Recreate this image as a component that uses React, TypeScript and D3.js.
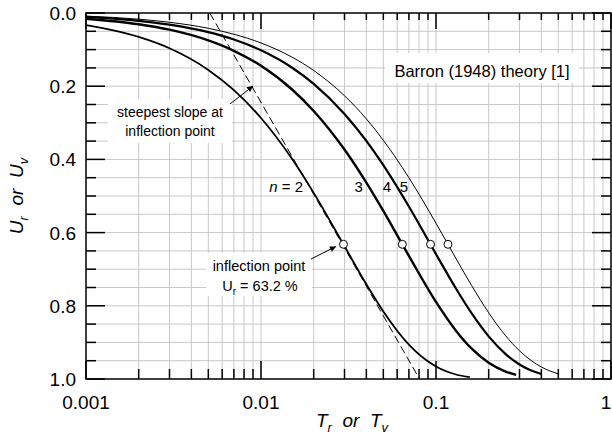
import React from 'react';
import * as d3 from 'd3';

// Time factor values (log axis) and degree of consolidation
const T_N2 = [0.001, 0.002, 0.003, 0.005, 0.007, 0.01, 0.015, 0.02, 0.03, 0.04, 0.05, 0.07, 0.1, 0.13, 0.156];
const U_N2 = [0.0332, 0.0654, 0.0964, 0.1555, 0.2107, 0.2868, 0.3977, 0.4914, 0.6372, 0.7413, 0.8155, 0.9061, 0.966, 0.9877, 0.9949];

const T_N3 = [0.001, 0.002, 0.003, 0.005, 0.007, 0.01, 0.015, 0.02, 0.03, 0.04, 0.05, 0.07, 0.1, 0.13, 0.16, 0.2, 0.25, 0.287];
const U_N3 = [0.0155, 0.0307, 0.0456, 0.0749, 0.1033, 0.1442, 0.2083, 0.2676, 0.3731, 0.4636, 0.5409, 0.6638, 0.7893, 0.8679, 0.9172, 0.9556, 0.9796, 0.9885];

const T_N4 = [0.001, 0.002, 0.003, 0.005, 0.007, 0.01, 0.015, 0.02, 0.03, 0.04, 0.05, 0.07, 0.1, 0.13, 0.16, 0.2, 0.25, 0.3, 0.35, 0.4];
const U_N4 = [0.0107, 0.0213, 0.0317, 0.0523, 0.0725, 0.1019, 0.1489, 0.1935, 0.2757, 0.3495, 0.4158, 0.5288, 0.6587, 0.7528, 0.8209, 0.8835, 0.932, 0.9603, 0.9768, 0.9864];

const T_N5 = [0.001, 0.002, 0.003, 0.005, 0.007, 0.01, 0.015, 0.02, 0.03, 0.04, 0.05, 0.07, 0.1, 0.13, 0.16, 0.2, 0.25, 0.3, 0.35, 0.4, 0.5];
const U_N5 = [0.0085, 0.0169, 0.0253, 0.0418, 0.058, 0.0819, 0.1203, 0.1571, 0.2261, 0.2894, 0.3477, 0.4501, 0.5744, 0.6707, 0.7451, 0.8189, 0.8819, 0.9229, 0.9497, 0.9672, 0.9861];

// Inflection points (U = 63.2 %)
const INFLECTION_T = [0.0296, 0.0642, 0.0931, 0.1171];
const INFLECTION_U = [0.632, 0.632, 0.632, 0.632];

// Steepest-slope tangent (n = 2) end points
const TANGENT_T = [0.0051, 0.0805];
const TANGENT_U = [0.0, 1.0];

const X_TICKS = [0.001, 0.01, 0.1, 1];
const X_TICK_LABELS = ['0.001', '0.01', '0.1', '1'];
const Y_TICKS = [0, 0.2, 0.4, 0.6, 0.8, 1.0];
const Y_TICK_LABELS = ['0.0', '0.2', '0.4', '0.6', '0.8', '1.0'];

const CURVE_LABELS = ['2', '3', '4', '5'];
const CURVE_LABEL_T = [0.0174, 0.0362, 0.0525, 0.0655];
const CURVE_LABEL_U = [0.475, 0.475, 0.475, 0.475];

const W = 612;
const H = 443;
const FONT = 'Liberation Sans, Arial, Helvetica, sans-serif';

export default function App() {
  const x = d3.scaleLog().domain([0.001, 1]).range([86, 611]);
  const y = d3.scaleLinear().domain([0, 1]).range([13, 379]);
  const [x0, x1] = x.range();
  const [y0, y1] = y.range();

  const minorX: number[] = [];
  [0.001, 0.01, 0.1].forEach((d) => {
    for (let k = 2; k <= 9; k++) minorX.push(d * k);
  });
  const gridY = d3.range(1, 20).map((i) => i * 0.05);
  const minorYTicks = d3.range(0, 21).map((i) => i * 0.05).filter((v) => Math.round(v * 100) % 20 !== 0);

  const line = d3
    .line<[number, number]>()
    .x((d) => x(d[0]))
    .y((d) => y(d[1]))
    .curve(d3.curveMonotoneX);

  const curves = [
    { t: T_N2, u: U_N2, w: 1.8 },
    { t: T_N3, u: U_N3, w: 2.4 },
    { t: T_N4, u: U_N4, w: 2.2 },
    { t: T_N5, u: U_N5, w: 1.0 },
  ];

  const tangent = d3.line<[number, number]>().x((d) => x(d[0])).y((d) => y(d[1]));

  return (
    <svg
      width={W}
      height={H}
      style={{ position: 'absolute', left: 0, top: 0, background: '#fff' }}
      fontFamily={FONT}
    >
      <defs>
        <marker id="ah" viewBox="0 0 10 10" refX="10" refY="5" markerWidth="9" markerHeight="6" markerUnits="userSpaceOnUse" orient="auto">
          <path d="M0,0 L10,5 L0,10 z" fill="#000" />
        </marker>
        <clipPath id="plot">
          <rect x={x0} y={y0} width={x1 - x0} height={y1 - y0} />
        </clipPath>
      </defs>
      <rect x={0} y={0} width={W} height={H} fill="#fff" />

      {/* grid */}
      <g stroke="#c8c8c8" strokeWidth={1}>
        {minorX.map((v, i) => (
          <line key={'gx' + i} x1={x(v)} x2={x(v)} y1={y0} y2={y1} />
        ))}
        {[0.01, 0.1].map((v, i) => (
          <line key={'gxm' + i} x1={x(v)} x2={x(v)} y1={y0} y2={y1} />
        ))}
        {gridY.map((v, i) => (
          <line key={'gy' + i} x1={x0} x2={x1} y1={y(v)} y2={y(v)} />
        ))}
      </g>

      {/* annotation boxes */}
      <rect x={385} y={53} width={194} height={30} fill="#fff" />
      <text x={482} y={77} fontSize={16.5} textAnchor="middle" fill="#000">Barron (1948) theory [1]</text>

      <rect x={108} y={99} width={124} height={44} fill="#fff" />
      <text x={170} y={117} fontSize={14} textAnchor="middle" fill="#000">steepest slope at</text>
      <text x={170} y={136} fontSize={14} textAnchor="middle" fill="#000">inflection point</text>

      <rect x={206} y={253} width={106} height={43} fill="#fff" />
      <text x={259} y={271} fontSize={14.5} textAnchor="middle" fill="#000">inflection point</text>
      <text x={260} y={291} fontSize={14.5} textAnchor="middle" fill="#000">
        U<tspan fontSize={10} dy={4}>r</tspan>
        <tspan dy={-4}> = 63.2 %</tspan>
      </text>

      {/* curves */}
      <g clipPath="url(#plot)">
        <path
          d={tangent(TANGENT_T.map((t, i) => [t, TANGENT_U[i]] as [number, number])) || ''}
          fill="none"
          stroke="#000"
          strokeWidth={1}
          strokeDasharray="8,4"
        />
        {curves.map((c, i) => (
          <path
            key={'c' + i}
            d={line(c.t.map((t, j) => [t, c.u[j]] as [number, number])) || ''}
            fill="none"
            stroke="#000"
            strokeWidth={c.w}
          />
        ))}
      </g>

      {/* arrows */}
      <line x1={230} y1={104} x2={253} y2={86} stroke="#000" strokeWidth={1} markerEnd="url(#ah)" />
      <line x1={311} y1={259} x2={336} y2={246.5} stroke="#000" strokeWidth={1} markerEnd="url(#ah)" />

      {/* inflection points */}
      {INFLECTION_T.map((t, i) => (
        <circle key={'ip' + i} cx={x(t)} cy={y(INFLECTION_U[i])} r={4} fill="#fff" stroke="#000" strokeWidth={1} />
      ))}

      {/* curve labels */}
      {CURVE_LABELS.map((l, i) => (
        <text key={'cl' + i} x={x(CURVE_LABEL_T[i])} y={y(CURVE_LABEL_U[i]) + 5.5} fontSize={15} textAnchor={i === 0 ? 'end' : 'middle'} fill="#000">
          {i === 0 ? (
            <>
              <tspan fontStyle="italic">n</tspan>
              <tspan> = 2</tspan>
            </>
          ) : (
            l
          )}
        </text>
      ))}

      {/* frame */}
      <rect x={x0} y={y0} width={x1 - x0} height={y1 - y0} fill="none" stroke="#000" strokeWidth={1.5} />

      {/* ticks */}
      <g stroke="#000" strokeWidth={1.5}>
        {minorX.map((v, i) => (
          <g key={'tx' + i}>
            <line x1={x(v)} x2={x(v)} y1={y1} y2={y1 - 10} />
            <line x1={x(v)} x2={x(v)} y1={y0} y2={y0 + 7} />
          </g>
        ))}
        {X_TICKS.map((v, i) => (
          <g key={'txm' + i}>
            <line x1={x(v)} x2={x(v)} y1={y1} y2={y1 - 18} />
            <line x1={x(v)} x2={x(v)} y1={y0} y2={y0 + 16} />
          </g>
        ))}
        {minorYTicks.map((v, i) => (
          <g key={'ty' + i}>
            <line x1={x0} x2={x0 + 10} y1={y(v)} y2={y(v)} />
            <line x1={x1} x2={x1 - 10} y1={y(v)} y2={y(v)} />
          </g>
        ))}
        {Y_TICKS.map((v, i) => (
          <g key={'tym' + i}>
            <line x1={x0} x2={x0 + 19} y1={y(v)} y2={y(v)} />
            <line x1={x1} x2={x1 - 19} y1={y(v)} y2={y(v)} />
          </g>
        ))}
      </g>

      {/* tick labels */}
      {X_TICKS.map((v, i) => (
        <text key={'xl' + i} x={Math.min(x(v), 606)} y={409} fontSize={19} textAnchor="middle" fill="#000">
          {X_TICK_LABELS[i]}
        </text>
      ))}
      {Y_TICKS.map((v, i) => (
        <text key={'yl' + i} x={76} y={y(v) + 7} fontSize={19} textAnchor="end" fill="#000">
          {Y_TICK_LABELS[i]}
        </text>
      ))}

      {/* axis titles */}
      <text x={352} y={427} fontSize={19} textAnchor="middle" fontStyle="italic" fill="#000" style={{ whiteSpace: 'pre' }}>
        T<tspan fontSize={13} dy={5}>r</tspan>
        <tspan dy={-5}>{'  or  '}</tspan>T<tspan fontSize={13} dy={5}>v</tspan>
      </text>
      <text transform="translate(23,196) rotate(-90)" fontSize={19} textAnchor="middle" fontStyle="italic" fill="#000" style={{ whiteSpace: 'pre' }}>
        U<tspan fontSize={13} dy={5}>r</tspan>
        <tspan dy={-5}>{'  or  '}</tspan>U<tspan fontSize={13} dy={5}>v</tspan>
      </text>
    </svg>
  );
}
